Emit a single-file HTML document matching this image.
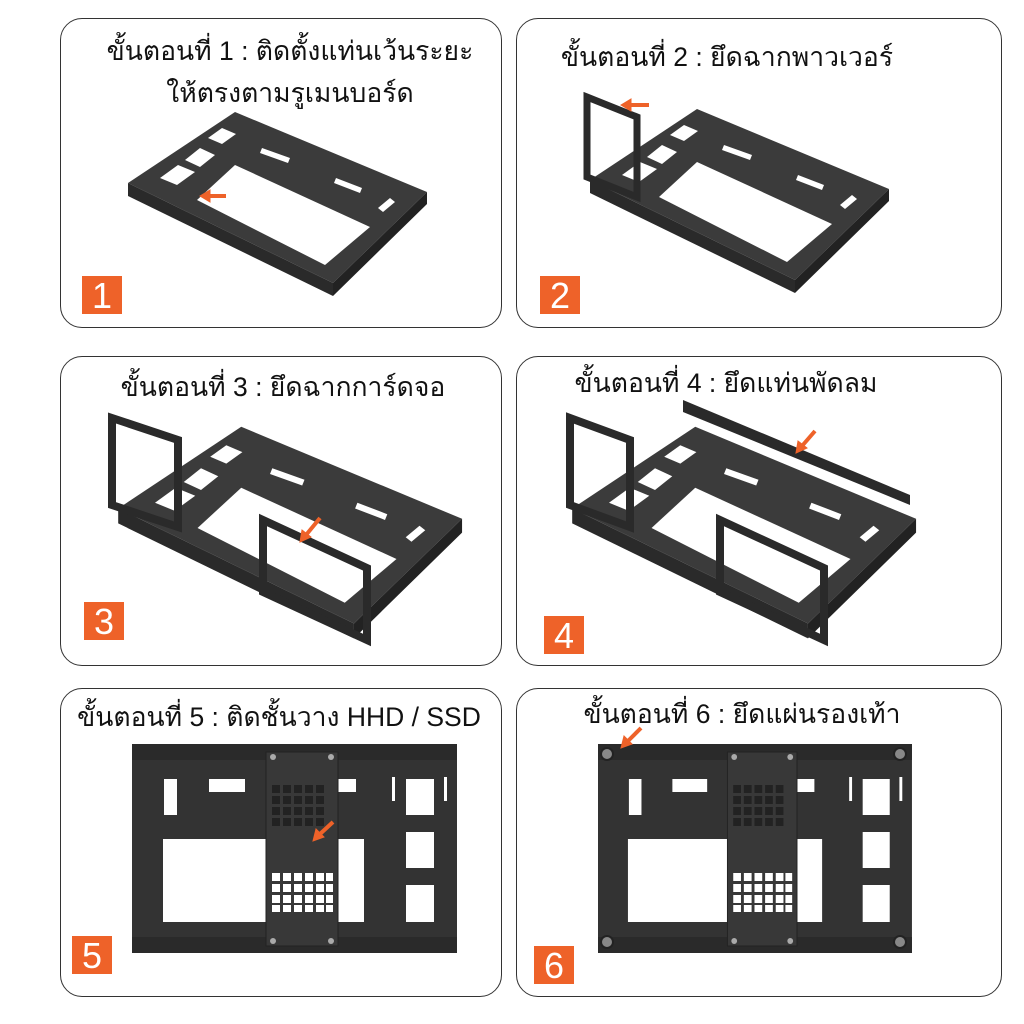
<!DOCTYPE html>
<html><head><meta charset="utf-8"><style>
body{margin:0;background:#fff;width:1024px;height:1024px;overflow:hidden;position:relative;font-family:"Liberation Sans","Noto Sans CJK SC",sans-serif}
.p{position:absolute;border:1.5px solid #333;border-radius:22px;background:#fff}
.t{position:absolute;left:0;right:0;text-align:center;font-size:26.5px;color:#111;line-height:42px;white-space:nowrap}
.n{position:absolute;background:#ee6229;color:#fff;font-size:36px;width:40px;height:38px;line-height:40px;text-align:center}
svg{position:absolute;left:0;top:0}
</style></head><body>
<div class="p" style="left:60px;top:18px;width:440px;height:308px"><div class="t" style="top:11px;transform:translateX(9px)">ขั้นตอนที่ 1 : ติดตั้งแท่นเว้นระยะ<br>ให้ตรงตามรูเมนบอร์ด</div></div>
<div class="p" style="left:516px;top:18px;width:484px;height:308px"><div class="t" style="top:17px;transform:translateX(-32px)">ขั้นตอนที่ 2 : ยึดฉากพาวเวอร์</div></div>
<div class="p" style="left:60px;top:356px;width:440px;height:308px"><div class="t" style="top:9px;transform:translateX(2px)">ขั้นตอนที่ 3 : ยึดฉากการ์ดจอ</div></div>
<div class="p" style="left:516px;top:356px;width:484px;height:308px"><div class="t" style="top:5px;transform:translateX(-33px)">ขั้นตอนที่ 4 : ยึดแท่นพัดลม</div></div>
<div class="p" style="left:60px;top:688px;width:440px;height:307px"><div class="t" style="top:7px;transform:translateX(-2px)">ขั้นตอนที่ 5 : ติดชั้นวาง HHD / SSD</div></div>
<div class="p" style="left:516px;top:688px;width:484px;height:307px"><div class="t" style="top:4px;transform:translateX(-17px)">ขั้นตอนที่ 6 : ยึดแผ่นรองเท้า</div></div>

<svg width="1024" height="1024" viewBox="0 0 1024 1024">
<defs>
<g id="iso">
<polygon points="128,183 235,112 427,192 333,283" fill="#3b3b3b"/>
<polygon points="128,183 333,283 333,296 128,196" fill="#2a2a2a"/>
<polygon points="333,283 427,192 427,204 333,296" fill="#222"/>
<polygon points="197,200 235,165 370,227 325,265" fill="#fff"/>
<polygon points="160,178 178,165 195,172 177,185" fill="#fff"/>
<polygon points="185,160 200,148 215,155 200,167" fill="#fff"/>
<polygon points="208,138 222,128 236,134 222,144" fill="#fff"/>
<polygon points="262,148 290,158 288,163 260,153" fill="#fff"/>
<polygon points="336,178 362,188 360,193 334,183" fill="#fff"/>
<polygon points="378,208 390,198 395,202 383,212" fill="#fff"/>
</g>
<g id="top">
<rect x="132" y="744" width="325" height="209" fill="#333"/>
<rect x="132" y="744" width="325" height="16" fill="#2a2a2a"/>
<rect x="132" y="937" width="325" height="16" fill="#2a2a2a"/>
<rect x="164" y="779" width="13" height="36" fill="#fff"/>
<rect x="209" y="779" width="36" height="13" fill="#fff"/>
<rect x="163" y="839" width="103" height="83" fill="#fff"/>
<rect x="338" y="839" width="26" height="83" fill="#fff"/>
<rect x="338" y="779" width="18" height="13" fill="#fff"/>
<rect x="406" y="779" width="28" height="36" fill="#fff"/>
<rect x="406" y="832" width="28" height="36" fill="#fff"/>
<rect x="406" y="885" width="28" height="37" fill="#fff"/>
<rect x="392" y="777" width="3" height="24" fill="#fff"/>
<rect x="444" y="777" width="3" height="24" fill="#fff"/>
<rect x="266" y="752" width="72" height="194" fill="#383838" stroke="#222"/>
<g fill="#222">
<rect x="272" y="785" width="8" height="8"/><rect x="283" y="785" width="8" height="8"/><rect x="294" y="785" width="8" height="8"/><rect x="305" y="785" width="8" height="8"/><rect x="316" y="785" width="8" height="8"/>
<rect x="272" y="796" width="8" height="8"/><rect x="283" y="796" width="8" height="8"/><rect x="294" y="796" width="8" height="8"/><rect x="305" y="796" width="8" height="8"/><rect x="316" y="796" width="8" height="8"/>
<rect x="272" y="807" width="8" height="8"/><rect x="283" y="807" width="8" height="8"/><rect x="294" y="807" width="8" height="8"/><rect x="305" y="807" width="8" height="8"/><rect x="316" y="807" width="8" height="8"/>
<rect x="272" y="818" width="8" height="8"/><rect x="283" y="818" width="8" height="8"/><rect x="294" y="818" width="8" height="8"/><rect x="305" y="818" width="8" height="8"/><rect x="316" y="818" width="8" height="8"/>
</g>
<g fill="#fff">
<rect x="272" y="873" width="8" height="8"/><rect x="283" y="873" width="8" height="8"/><rect x="294" y="873" width="8" height="8"/><rect x="305" y="873" width="8" height="8"/><rect x="316" y="873" width="8" height="8"/><rect x="326" y="873" width="7" height="8"/>
<rect x="272" y="884" width="8" height="8"/><rect x="283" y="884" width="8" height="8"/><rect x="294" y="884" width="8" height="8"/><rect x="305" y="884" width="8" height="8"/><rect x="316" y="884" width="8" height="8"/><rect x="326" y="884" width="7" height="8"/>
<rect x="272" y="895" width="8" height="8"/><rect x="283" y="895" width="8" height="8"/><rect x="294" y="895" width="8" height="8"/><rect x="305" y="895" width="8" height="8"/><rect x="316" y="895" width="8" height="8"/><rect x="326" y="895" width="7" height="8"/>
<rect x="272" y="905" width="8" height="7"/><rect x="283" y="905" width="8" height="7"/><rect x="294" y="905" width="8" height="7"/><rect x="305" y="905" width="8" height="7"/><rect x="316" y="905" width="8" height="7"/><rect x="326" y="905" width="7" height="7"/>
<circle cx="273" cy="757" r="3" fill="#aaa"/><circle cx="331" cy="757" r="3" fill="#aaa"/>
<circle cx="273" cy="941" r="3" fill="#aaa"/><circle cx="331" cy="941" r="3" fill="#aaa"/>
</g>
</g>
</defs>

<use href="#iso"/>
<use href="#iso" transform="translate(462,-3)"/>
<use href="#iso" transform="translate(-29,298) scale(1.15)"/>
<use href="#iso" transform="translate(425,298) scale(1.15)"/>

<polygon points="587,97 637,117 637,197 587,177" fill="none" stroke="#2a2a2a" stroke-width="7"/>
<polygon points="112,418 178,440 178,527 112,505" fill="none" stroke="#2a2a2a" stroke-width="8"/>
<polygon points="263,520 367,568 367,640 263,592" fill="none" stroke="#2a2a2a" stroke-width="8"/>
<polygon points="570,418 630,440 630,527 570,505" fill="none" stroke="#2a2a2a" stroke-width="8"/>
<polygon points="720,520 824,568 824,640 720,592" fill="none" stroke="#2a2a2a" stroke-width="8"/>
<polygon points="683,400 910,495 910,505 683,412" fill="#2a2a2a"/>

<use href="#top"/>
<use href="#top" transform="translate(598,0) scale(0.966,1) translate(-132,0)"/>
<g fill="#888" stroke="#222" stroke-width="2">
<circle cx="607" cy="754" r="6"/><circle cx="900" cy="754" r="6"/><circle cx="607" cy="942" r="6"/><circle cx="900" cy="942" r="6"/>
</g>

<g fill="#ee6229" stroke="#ee6229">
<line x1="226" y1="196" x2="207" y2="196" stroke-width="4"/><polygon points="200,196 210,190 210,202"/>
<line x1="649" y1="105" x2="628" y2="105" stroke-width="4"/><polygon points="621,105 631,99 631,111"/>
<line x1="320" y1="518" x2="306" y2="535" stroke-width="4"/><polygon points="300,542 302,530 311,537"/>
<line x1="815" y1="431" x2="802" y2="446" stroke-width="4"/><polygon points="796,453 798,441 807,448"/>
<line x1="333" y1="822" x2="320" y2="834" stroke-width="4"/><polygon points="313,841 316,829 324,837"/>
<line x1="641" y1="728" x2="628" y2="741" stroke-width="4"/><polygon points="621,748 624,736 632,744"/>
</g>
</svg>

<div class="n" style="left:82px;top:276px">1</div>
<div class="n" style="left:540px;top:276px">2</div>
<div class="n" style="left:84px;top:602px">3</div>
<div class="n" style="left:544px;top:616px">4</div>
<div class="n" style="left:72px;top:936px">5</div>
<div class="n" style="left:534px;top:946px">6</div>
</body></html>
